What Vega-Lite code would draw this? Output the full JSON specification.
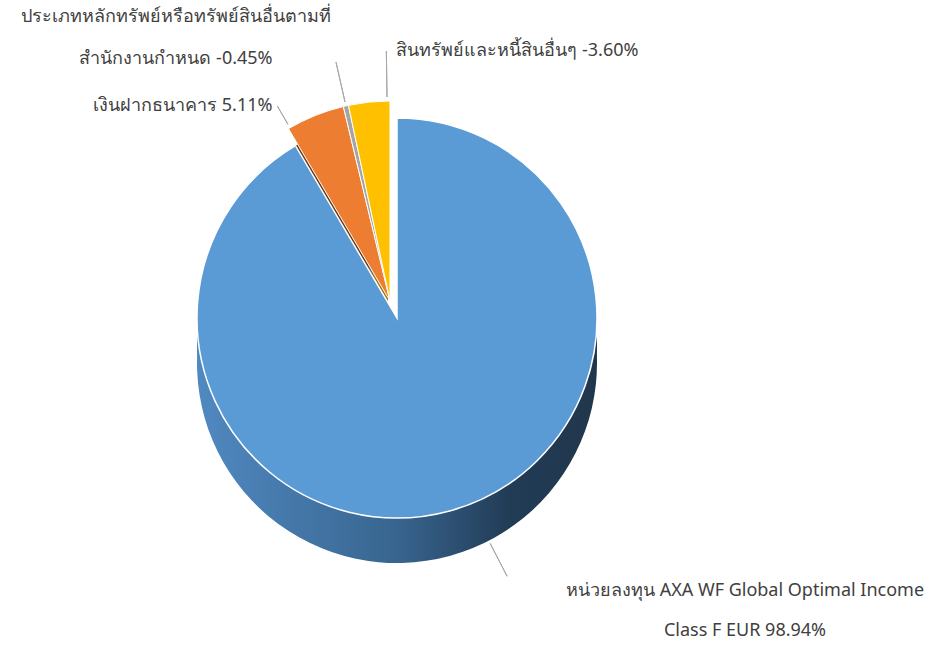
{
  "$schema": "https://vega.github.io/schema/vega-lite/v6.json",
  "width": 794,
  "height": 620,
  "autosize": {"type": "none"},
  "padding": {"left": 0, "top": 8, "right": 150, "bottom": 18},
  "background": "white",
  "config": {
    "view": {"stroke": null},
    "text": {"font": "Noto Sans, DejaVu Sans, sans-serif", "fontSize": 18, "color": "#404040"}
  },
  "data": {
    "values": [
      {"key": "fund", "label": "หน่วยลงทุน AXA WF Global Optimal Income\nClass F EUR 98.94%", "pct": 98.94, "weight": 98.94, "order": 1},
      {"key": "cash", "label": "เงินฝากธนาคาร 5.11%", "pct": 5.11, "weight": 5.11, "order": 2},
      {"key": "reg", "label": "ประเภทหลักทรัพย์หรือทรัพย์สินอื่นตามที่\nสำนักงานกำหนด -0.45%", "pct": -0.45, "weight": 0.45, "order": 3},
      {"key": "other", "label": "สินทรัพย์และหนี้สินอื่นๆ -3.60%", "pct": -3.6, "weight": 3.6, "order": 4}
    ]
  },
  "encoding": {
    "theta": {"field": "weight", "type": "quantitative", "stack": true, "scale": {"nice": false, "zero": true}},
    "order": {"field": "order", "type": "quantitative"}
  },
  "layer": [
    {
      "mark": {"type": "arc", "radius": 200, "xOffset": -9, "yOffset": 5},
      "encoding": {
        "fill": {"condition": [{"test": "datum.key === 'cash'", "value": "#6e3814"}, {"test": "datum.key === 'reg'", "value": "#6b6b6b"}], "value": "#a07800"},
        "opacity": {"condition": {"test": "datum.key === 'fund'", "value": 0}, "value": 1}
      }
    },
    {
      "mark": {"type": "arc", "radius": 200, "xOffset": -9, "yOffset": 28},
      "encoding": {
        "fill": {"condition": [{"test": "datum.key === 'cash'", "value": "#6e3814"}, {"test": "datum.key === 'reg'", "value": "#6b6b6b"}], "value": "#a07800"},
        "opacity": {"condition": {"test": "datum.key === 'fund'", "value": 0}, "value": 1}
      }
    },
    {
      "mark": {"type": "arc", "radius": 200, "yOffset": 15, "fill": {"gradient": "linear", "x1": 0, "y1": 0, "x2": 1, "y2": 0, "stops": [{"offset": 0, "color": "#5089c1"}, {"offset": 0.5, "color": "#38658f"}, {"offset": 0.78, "color": "#223c56"}, {"offset": 1, "color": "#20364c"}]}},
      "encoding": {"opacity": {"condition": {"test": "datum.key === 'fund'", "value": 1}, "value": 0}}
    },
    {
      "mark": {"type": "arc", "radius": 200, "yOffset": 30, "fill": {"gradient": "linear", "x1": 0, "y1": 0, "x2": 1, "y2": 0, "stops": [{"offset": 0, "color": "#5089c1"}, {"offset": 0.5, "color": "#38658f"}, {"offset": 0.78, "color": "#223c56"}, {"offset": 1, "color": "#20364c"}]}},
      "encoding": {"opacity": {"condition": {"test": "datum.key === 'fund'", "value": 1}, "value": 0}}
    },
    {
      "mark": {"type": "arc", "radius": 200, "yOffset": 45, "fill": {"gradient": "linear", "x1": 0, "y1": 0, "x2": 1, "y2": 0, "stops": [{"offset": 0, "color": "#5089c1"}, {"offset": 0.5, "color": "#38658f"}, {"offset": 0.78, "color": "#223c56"}, {"offset": 1, "color": "#20364c"}]}},
      "encoding": {"opacity": {"condition": {"test": "datum.key === 'fund'", "value": 1}, "value": 0}}
    },
    {
      "mark": {"type": "arc", "radius": 200, "fill": "#5b9bd5", "stroke": "white", "strokeWidth": 1.5},
      "encoding": {"opacity": {"condition": {"test": "datum.key === 'fund'", "value": 1}, "value": 0}}
    },
    {
      "mark": {"type": "arc", "radius": 200, "xOffset": -7, "yOffset": -17, "stroke": "white", "strokeWidth": 1},
      "encoding": {
        "fill": {"condition": [{"test": "datum.key === 'cash'", "value": "#ed7d31"}, {"test": "datum.key === 'reg'", "value": "#a5a5a5"}], "value": "#ffc000"},
        "opacity": {"condition": {"test": "datum.key === 'fund'", "value": 0}, "value": 1}
      }
    },
    {
      "transform": [{"stack": "weight", "groupby": [], "sort": [{"field": "order", "order": "ascending"}], "as": ["w0", "w1"]}],
      "mark": {"type": "arc", "radius": 240, "radius2": 203, "yOffset": 45, "thetaOffset": 2.6, "theta2Offset": -3.0208, "padAngle": 3, "fill": "transparent", "stroke": "#a6a6a6", "strokeWidth": 1},
      "encoding": {
        "theta": {"field": "w0", "type": "quantitative", "stack": null, "scale": {"nice": false, "zero": true}},
        "theta2": {"field": "w1"},
        "opacity": {"condition": {"test": "datum.key === 'fund'", "value": 1}, "value": 0}
      }
    },
    {
      "mark": {"type": "arc", "radius": 225, "radius2": 204, "xOffset": -7, "yOffset": -17, "thetaOffset": -0.14, "padAngle": 3, "fill": "transparent", "stroke": "#a6a6a6", "strokeWidth": 1},
      "encoding": {"opacity": {"condition": {"test": "datum.key === 'cash'", "value": 1}, "value": 0}}
    },
    {
      "mark": {"type": "arc", "radius": 245, "radius2": 204, "xOffset": -7, "yOffset": -17, "padAngle": 3, "fill": "transparent", "stroke": "#a6a6a6", "strokeWidth": 1},
      "encoding": {"opacity": {"condition": {"test": "datum.key === 'reg'", "value": 1}, "value": 0}}
    },
    {
      "mark": {"type": "arc", "radius": 250, "radius2": 204, "xOffset": -7, "yOffset": -17, "thetaOffset": 0.09, "padAngle": 3, "fill": "transparent", "stroke": "#a6a6a6", "strokeWidth": 1},
      "encoding": {"opacity": {"condition": {"test": "datum.key === 'other'", "value": 1}, "value": 0}}
    },
    {
      "mark": {"type": "text", "radius": 240, "yOffset": 45, "thetaOffset": -0.21, "align": "center", "baseline": "top", "dx": 238, "dy": 6, "lineBreak": "\n", "lineHeight": 40},
      "encoding": {"text": {"condition": {"test": "datum.key === 'fund'", "field": "label"}, "value": ""}}
    },
    {
      "mark": {"type": "text", "radius": 225, "xOffset": -7, "yOffset": -17, "thetaOffset": -0.14, "align": "right", "baseline": "middle", "dx": -5},
      "encoding": {"text": {"condition": {"test": "datum.key === 'cash'", "field": "label"}, "value": ""}}
    },
    {
      "mark": {"type": "text", "radius": 245, "xOffset": -7, "yOffset": -17, "align": "center", "baseline": "top", "dx": -160, "dy": -54, "lineBreak": "\n", "lineHeight": 42},
      "encoding": {"text": {"condition": {"test": "datum.key === 'reg'", "field": "label"}, "value": ""}}
    },
    {
      "mark": {"type": "text", "radius": 250, "xOffset": -7, "yOffset": -17, "thetaOffset": 0.09, "align": "left", "baseline": "middle", "dx": 10},
      "encoding": {"text": {"condition": {"test": "datum.key === 'other'", "field": "label"}, "value": ""}}
    }
  ]
}
